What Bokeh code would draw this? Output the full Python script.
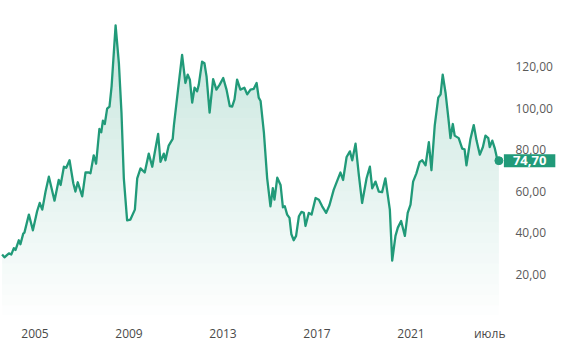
from bokeh.plotting import figure
from bokeh.models import FixedTicker, Label, Range1d
from bokeh.embed import file_html
from bokeh.resources import INLINE

# Decimal-year dates and prices
dates = [2003.60, 2003.70, 2003.89, 2003.99, 2004.10, 2004.17, 2004.31, 2004.38, 2004.50, 2004.55,
         2004.74, 2004.91, 2005.09, 2005.20, 2005.31, 2005.45, 2005.59, 2005.83, 2006.01, 2006.09,
         2006.23, 2006.33, 2006.47, 2006.63, 2006.72, 2006.82, 2007.01, 2007.15, 2007.29, 2007.36,
         2007.50, 2007.60, 2007.74, 2007.82, 2007.89, 2007.97, 2008.07, 2008.17, 2008.26, 2008.43,
         2008.57, 2008.68, 2008.78, 2008.92, 2009.06, 2009.25, 2009.35, 2009.49, 2009.67, 2009.84,
         2009.99, 2010.10, 2010.24, 2010.34, 2010.48, 2010.55, 2010.69, 2010.86, 2010.91, 2011.12,
         2011.26, 2011.40, 2011.50, 2011.59, 2011.69, 2011.79, 2011.90, 2011.97, 2012.11, 2012.21,
         2012.30, 2012.43, 2012.58, 2012.72, 2012.86, 2013.01, 2013.15, 2013.29, 2013.39, 2013.49,
         2013.60, 2013.74, 2013.91, 2014.03, 2014.17, 2014.31, 2014.43, 2014.52, 2014.60, 2014.74,
         2014.88, 2015.02, 2015.12, 2015.19, 2015.31, 2015.45, 2015.55, 2015.63, 2015.73, 2015.83,
         2015.91, 2016.01, 2016.11, 2016.23, 2016.34, 2016.44, 2016.51, 2016.65, 2016.77, 2016.94,
         2017.08, 2017.22, 2017.39, 2017.53, 2017.71, 2017.90, 2018.00, 2018.11, 2018.26, 2018.40,
         2018.50, 2018.64, 2018.78, 2018.92, 2019.11, 2019.25, 2019.35, 2019.49, 2019.63, 2019.77,
         2019.91, 2020.10, 2020.20, 2020.34, 2020.44, 2020.58, 2020.74, 2020.86, 2020.98, 2021.09,
         2021.23, 2021.37, 2021.48, 2021.62, 2021.76, 2021.87, 2022.01, 2022.16, 2022.26, 2022.35,
         2022.47, 2022.58, 2022.68, 2022.78, 2022.86, 2023.03, 2023.18, 2023.28, 2023.36, 2023.53,
         2023.67, 2023.79, 2023.93, 2024.06, 2024.17, 2024.29, 2024.35, 2024.46, 2024.57, 2024.67,
         2024.74]
prices = [29.4, 28.1, 30.0, 29.4, 32.5, 31.6, 36.3, 34.4, 39.5, 40.0,
          48.7, 41.1, 50.3, 54.3, 51.1, 59.8, 67.0, 55.4, 65.4, 63.0,
          71.8, 71.3, 74.9, 63.8, 59.8, 64.3, 57.5, 69.0, 69.0, 68.6,
          77.3, 73.3, 90.0, 88.4, 94.0, 92.4, 99.8, 100.8, 110.6, 140.0,
          121.7, 97.9, 66.2, 45.9, 46.3, 51.1, 66.2, 71.0, 69.0, 78.1,
          71.8, 78.9, 87.6, 74.1, 78.1, 74.9, 82.0, 85.2, 91.6, 112.2,
          125.7, 112.2, 116.2, 113.8, 102.7, 109.9, 108.2, 111.4, 122.5, 121.7,
          115.4, 97.9, 114.1, 109.0, 111.4, 114.6, 109.0, 101.0, 100.8, 104.3,
          113.8, 109.0, 109.9, 106.7, 109.0, 109.4, 112.2, 105.1, 103.5, 88.4,
          66.2, 52.7, 61.4, 55.9, 66.5, 63.0, 52.2, 52.7, 48.7, 47.1,
          39.2, 36.3, 38.4, 47.9, 50.0, 49.5, 43.2, 49.5, 48.7, 56.7,
          55.9, 52.7, 49.5, 53.2, 60.6, 66.2, 69.0, 65.4, 76.5, 79.2,
          74.9, 82.9, 67.8, 54.3, 66.2, 71.8, 61.4, 64.6, 59.8, 59.5,
          66.2, 51.1, 26.5, 38.4, 42.4, 45.6, 38.4, 49.5, 53.5, 64.6,
          68.6, 74.1, 74.9, 72.5, 83.7, 70.1, 91.6, 105.1, 106.7, 116.2,
          107.5, 96.3, 85.6, 92.4, 86.8, 85.6, 80.5, 80.2, 72.5, 85.2,
          91.9, 84.4, 77.6, 81.3, 86.8, 85.6, 81.3, 84.4, 80.5, 75.4,
          74.7]

x_ticks = [2005, 2009, 2013, 2017, 2021, 2024.35]
x_tick_labels = ["2005", "2009", "2013", "2017", "2021", "июль"]
y_ticks = [20, 40, 60, 80, 100, 120]
y_tick_labels = ["20,00", "40,00", "60,00", "80,00", "100,00", "120,00"]
last_label = "74,70"

GREEN = "#219a79"
FONT = "Open Sans"

# frame spans the full width so the value badge (an annotation) is not clipped;
# the y-axis labels are pulled back over the frame with a negative standoff
p = figure(width=560, height=344, output_backend="svg", toolbar_location=None,
           x_range=Range1d(2003.532, 2027.362), y_range=Range1d(0, 144.76),
           y_axis_location="right",
           min_border_left=0, min_border_right=0, min_border_top=15, min_border_bottom=25)
p.outline_line_color = None
p.grid.visible = False
p.background_fill_color = "white"
p.border_fill_color = "white"

# gradient-like fill: stacked horizontal bands with increasing opacity
band_edges = list(range(0, 150, 5))
for lo, hi in zip(band_edges[:-1], band_edges[1:]):
    y1 = [min(v, lo) for v in prices]
    y2 = [min(v, hi) for v in prices]
    alpha = 0.0 + 0.26 * (hi / 145.0)
    p.varea(x=dates, y1=y1, y2=y2, fill_color=GREEN, fill_alpha=alpha)

p.line(dates, prices, line_color=GREEN, line_width=2.3, line_join="round")
p.scatter([dates[-1]], [prices[-1]], size=8, color=GREEN)

# axes
xa = p.xaxis[0]
xa.ticker = FixedTicker(ticks=x_ticks)
xa.major_label_overrides = dict(zip(x_ticks, x_tick_labels))
xa.axis_line_color = None
xa.major_tick_line_color = None
xa.minor_tick_line_color = None
xa.major_tick_out = 0
xa.minor_tick_out = 0
xa.major_label_standoff = 9
xa.major_label_text_font = FONT
xa.major_label_text_font_size = "12px"
xa.major_label_text_color = "#4a4a4a"

ya = p.yaxis[0]
ya.ticker = FixedTicker(ticks=y_ticks)
ya.major_label_overrides = dict(zip(y_ticks, y_tick_labels))
ya.axis_line_color = None
ya.major_tick_line_color = None
ya.minor_tick_line_color = None
ya.major_tick_out = 0
ya.minor_tick_out = 0
ya.major_label_standoff = -45
ya.major_label_text_font = FONT
ya.major_label_text_font_size = "12px"
ya.major_label_text_color = "#5a5a5a"

lab = Label(x=dates[-1], y=prices[-1], text=last_label, x_offset=5,
            text_align="left", text_baseline="middle",
            text_color="white", text_font=FONT, text_font_size="13px",
            text_font_style="bold",
            background_fill_color=GREEN,
            padding=dict(left=9, right=9, top=2, bottom=2))
p.add_layout(lab)

open("out.html", "w").write(file_html(p, INLINE))
